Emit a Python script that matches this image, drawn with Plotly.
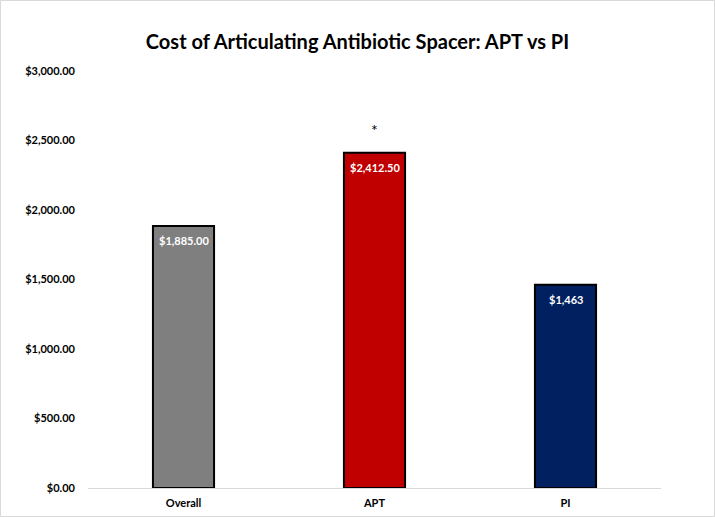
import plotly.graph_objects as go

categories = ["Overall", "APT", "PI"]
values = [1885.00, 2412.50, 1463.00]
value_labels = ["$1,885.00", "$2,412.50", "$1,463"]
bar_colors = ["#7F7F7F", "#C00000", "#002060"]
significance = ["", "*", ""]
y_ticks = [0, 500, 1000, 1500, 2000, 2500, 3000]
y_tick_labels = ["$0.00", "$500.00", "$1,000.00", "$1,500.00", "$2,000.00", "$2,500.00", "$3,000.00"]

FONT = "Century Gothic, URW Gothic, Lato, sans-serif"
W, H = 715, 517
ML, MR, MT, MB = 88, 54, 71, 29

fig = go.Figure()
fig.add_trace(go.Bar(
    x=categories, y=values,
    marker=dict(color=bar_colors, line=dict(color="black", width=2)),
    width=0.32,
    hoverinfo="skip",
))

annotations = []
for c, v, lab, sig in zip(categories, values, value_labels, significance):
    annotations.append(dict(x=c, y=v, text="<b>" + lab + "</b>", showarrow=False,
                            yanchor="top", yshift=-6,
                            font=dict(family=FONT, size=11, color="white")))
    if sig:
        annotations.append(dict(x=c, y=v, text=sig, showarrow=False,
                                yanchor="bottom", yshift=12,
                                font=dict(family=FONT, size=16, color="black")))

pw = W - ML - MR
ph = H - MT - MB
fig.add_shape(type="rect", xref="paper", yref="paper",
              x0=(-ML + 0.5) / pw, x1=(W - ML - 0.5) / pw,
              y0=(-MB + 0.5) / ph, y1=(H - MB - 0.5) / ph,
              line=dict(color="#D9D9D9", width=1), layer="below")

fig.update_layout(
    width=W, height=H,
    margin=dict(l=ML, r=MR, t=MT, b=MB),
    paper_bgcolor="white", plot_bgcolor="white",
    title=dict(text="<b>Cost of Articulating Antibiotic Spacer: APT vs PI</b>",
               x=0.5, xref="container", xanchor="center",
               y=1 - 42 / H, yanchor="middle",
               font=dict(family=FONT, size=20, color="black")),
    showlegend=False,
    annotations=annotations,
    bargap=0.68,
)
fig.update_xaxes(showline=True, linecolor="#D9D9D9", linewidth=1,
                 showgrid=False, ticks="", ticklabelstandoff=5, automargin=False,
                 tickfont=dict(family=FONT, size=11, color="black"),
                 tickprefix="<b>", ticksuffix="</b>")
fig.update_yaxes(range=[0, 3000], tickvals=y_ticks,
                 ticktext=["<b>" + t + "</b>" for t in y_tick_labels],
                 showgrid=False, zeroline=False, showline=False, ticks="",
                 ticklabelstandoff=12, automargin=False,
                 tickfont=dict(family=FONT, size=11, color="black"))

fig.write_html("out.html")
